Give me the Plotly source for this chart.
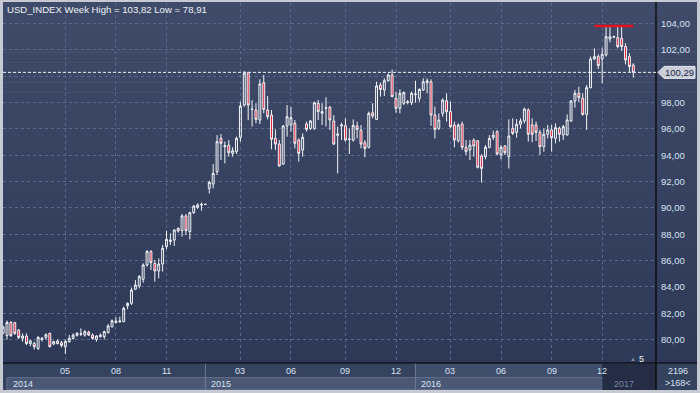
import plotly.graph_objects as go

# ---------------- data ----------------
opens = [80.50, 80.30, 81.30, 81.28, 80.72, 80.10, 80.27, 79.70, 79.70, 79.33,
         80.00, 80.16, 80.47, 79.66, 79.70, 79.76, 79.46, 79.84, 80.09, 80.32,
         80.40, 80.34, 80.57, 80.34, 80.01, 80.22, 80.22, 80.52, 80.97, 81.30,
         81.35, 81.36, 82.57, 82.75, 83.82, 84.07, 84.58, 85.66, 86.68, 85.79,
         85.21, 85.74, 87.06, 87.44, 87.56, 88.45, 88.27, 89.39, 88.20, 89.64,
         90.04, 90.22, 90.27, 91.48, 91.81, 92.75, 95.28, 94.65, 94.77, 94.14,
         94.27, 95.36, 97.81, 100.27, 97.48, 97.43, 96.67, 99.51, 97.43, 97.05,
         95.28, 94.85, 93.33, 96.22, 96.30, 96.42, 95.15, 94.39, 96.37, 96.04,
         96.04, 97.94, 97.18, 97.56, 97.64, 96.60, 95.51, 96.22, 96.24, 95.20,
         95.15, 96.22, 95.91, 94.95, 94.60, 97.23, 96.72, 99.33, 98.95, 99.66,
         100.09, 98.32, 97.56, 97.94, 98.00, 97.99, 98.60, 98.32, 98.95, 99.51,
         99.58, 97.05, 96.04, 97.18, 98.14, 97.31, 96.29, 95.10, 96.37, 94.60,
         94.40, 95.15, 95.10, 93.94, 93.89, 94.60, 95.36, 95.79, 94.01, 94.70,
         93.89, 96.04, 95.74, 96.35, 96.60, 97.43, 96.30, 96.30, 95.74, 94.65,
         95.59, 95.92, 95.28, 96.04, 95.54, 95.54, 96.60, 98.12, 98.70, 98.32,
         97.10, 99.13, 101.31, 101.49, 101.31, 101.61, 102.83, 102.97, 102.93, 102.88,
         102.25, 101.49, 100.85]
highs = [81.05, 81.45, 81.40, 81.35, 80.80, 80.47, 80.47, 80.00, 79.84, 80.27,
         80.20, 80.47, 80.52, 79.91, 80.00, 79.91, 80.00, 80.34, 80.47, 80.57,
         80.85, 80.72, 80.67, 80.47, 80.34, 80.47, 80.67, 81.18, 81.53, 81.69,
         81.74, 82.50, 82.83, 83.94, 84.52, 84.90, 85.79, 86.80, 86.80, 86.04,
         86.17, 87.18, 88.27, 88.07, 88.37, 88.52, 89.54, 89.54, 89.71, 90.22,
         90.35, 90.40, 90.30, 92.06, 93.33, 95.53, 95.61, 95.03, 95.15, 94.60,
         95.41, 98.07, 100.39, 100.34, 98.19, 97.94, 99.76, 100.09, 98.50, 97.43,
         95.96, 95.15, 96.29, 97.81, 97.66, 96.67, 95.28, 95.66, 96.55, 96.67,
         98.07, 98.19, 97.94, 98.40, 97.74, 97.05, 96.17, 96.47, 96.80, 96.04,
         96.72, 96.55, 96.29, 95.15, 97.31, 97.94, 99.58, 99.51, 99.84, 100.22,
         100.51, 98.83, 99.00, 98.83, 98.19, 98.83, 99.66, 99.08, 99.84, 99.84,
         99.76, 97.69, 97.18, 98.32, 98.70, 98.07, 96.55, 96.42, 96.55, 95.15,
         95.15, 95.28, 95.15, 94.09, 94.77, 95.53, 95.86, 95.91, 94.77, 94.77,
         96.72, 96.80, 96.75, 96.80, 97.61, 97.56, 96.80, 96.55, 95.92, 96.04,
         96.30, 96.30, 96.42, 96.17, 96.30, 97.10, 98.19, 98.95, 99.20, 98.70,
         99.33, 101.49, 102.12, 101.66, 102.17, 103.76, 103.76, 103.08, 103.82, 103.76,
         102.50, 101.74, 100.98]
lows = [80.40, 80.00, 80.20, 80.35, 80.04, 79.84, 79.58, 79.50, 79.25, 79.20,
        79.85, 80.00, 79.40, 79.58, 79.63, 79.40, 78.91, 79.76, 80.00, 80.22,
        80.27, 80.22, 80.27, 80.00, 79.84, 80.16, 80.01, 80.47, 80.92, 81.23,
        81.28, 81.31, 82.30, 82.63, 83.77, 83.89, 84.32, 85.54, 85.28, 84.40,
        84.65, 85.16, 86.85, 87.18, 87.11, 88.12, 87.82, 87.94, 87.61, 89.54,
        89.92, 89.79, 90.25, 91.10, 91.48, 92.50, 93.63, 93.38, 93.89, 93.89,
        94.09, 95.03, 97.69, 96.67, 96.17, 96.42, 96.37, 97.18, 96.72, 94.45,
        94.40, 93.13, 93.26, 95.41, 95.79, 94.52, 93.51, 93.89, 95.79, 95.91,
        95.91, 96.67, 96.29, 96.17, 95.91, 94.77, 92.62, 95.15, 95.03, 94.09,
        95.03, 95.28, 94.52, 93.84, 94.52, 96.80, 96.67, 98.45, 98.50, 99.58,
        98.40, 97.23, 97.18, 97.81, 97.86, 97.81, 97.99, 98.07, 98.90, 98.70,
        96.24, 95.28, 95.91, 96.93, 96.55, 96.04, 94.60, 94.95, 94.40, 94.01,
        93.63, 93.89, 93.00, 91.92, 93.69, 94.52, 95.15, 94.01, 93.69, 94.01,
        93.00, 95.53, 95.33, 96.04, 96.42, 95.03, 94.98, 95.08, 94.02, 94.27,
        95.28, 94.27, 94.90, 95.03, 95.16, 95.49, 96.55, 97.61, 98.02, 97.00,
        95.92, 99.08, 101.23, 100.55, 99.46, 101.49, 102.57, 102.88, 102.12, 101.92,
        100.90, 100.30, 99.89]
closes = [80.95, 81.30, 80.30, 80.47, 80.16, 80.27, 79.70, 79.90, 79.46, 80.16,
          80.10, 80.37, 79.46, 79.84, 79.89, 79.56, 79.86, 80.09, 80.34, 80.47,
          80.45, 80.60, 80.34, 80.09, 80.27, 80.34, 80.60, 81.03, 81.43, 81.40,
          81.41, 82.37, 82.75, 83.76, 84.14, 84.78, 85.66, 86.68, 85.84, 85.21,
          85.74, 86.93, 87.61, 87.56, 88.32, 88.25, 89.39, 88.27, 89.64, 90.14,
          90.22, 90.27, 90.27, 91.94, 92.62, 95.03, 94.90, 94.72, 94.19, 94.34,
          95.28, 97.74, 100.22, 97.81, 97.50, 96.72, 99.41, 97.48, 96.93, 95.21,
          94.85, 93.18, 96.22, 96.93, 96.85, 94.90, 94.14, 95.36, 95.96, 96.60,
          97.99, 97.31, 97.31, 97.60, 96.67, 94.85, 95.61, 96.29, 95.15, 95.23,
          96.27, 95.96, 94.85, 94.52, 97.18, 96.98, 99.26, 99.00, 99.66, 100.09,
          98.45, 97.56, 98.70, 98.77, 98.05, 98.70, 98.65, 99.00, 99.58, 99.64,
          97.05, 95.96, 96.67, 98.19, 97.31, 96.17, 95.15, 96.29, 94.60, 94.27,
          94.77, 94.70, 93.08, 93.00, 94.60, 95.28, 95.53, 94.09, 94.60, 94.19,
          95.46, 95.66, 96.35, 96.60, 97.51, 95.59, 95.59, 95.74, 94.65, 95.59,
          95.92, 95.33, 96.09, 95.59, 96.17, 96.68, 98.12, 98.70, 98.37, 97.10,
          99.13, 101.31, 101.49, 100.80, 101.66, 103.00, 103.00, 103.00, 102.25, 102.25,
          101.23, 100.73, 100.29]
bar_index = list(range(len(closes)))

month_tick_bars = [16, 29, 42, 61, 74, 88, 101, 115, 128, 141, 154]
month_tick_labels = ["05", "08", "11", "03", "06", "09", "12", "03", "06", "09", "12"]
year_labels = ["2014", "2015", "2016", "2017"]
year_start_bars = [1, 52, 106, 154]
y_tick_values = [80, 82, 84, 86, 88, 90, 92, 94, 96, 98, 100, 102, 104]
y_tick_labels = ["80,00", "82,00", "84,00", "86,00", "88,00", "90,00", "92,00",
                 "94,00", "96,00", "98,00", "", "102,00", "104,00"]
title_text = "USD_INDEX Week High = 103,82 Low = 78,91"
last_price_text = "100,29"
high_marker_bars = [152, 162]
visible_bars = 168
total_bars_text = "2196"
visible_bars_text = ">168<"
offset_bars_text = "5"

# ---------------- geometry / style ----------------
W, H = 700, 393
PL, PR, PT, PB = 3, 656, 3, 363
BAR_PX = 3.89
X0 = -0.03
X1 = X0 + (PR - PL) / BAR_PX
Y0, Y1 = 78.22, 105.56
FONT = "Liberation Sans"
LABEL_COLOR = "#d6e2f4"


def px_x(p):
    return (p - PL) / (PR - PL)


def px_y(p):
    return (PB - p) / (PB - PT)


def bar_px(b):
    return PL + (b - X0) * BAR_PX


shapes = []
# background gradient (plot + right axis panel)
N = 36
top_c, bot_c = (63, 75, 104), (45, 57, 86)
for i in range(N):
    t = i / (N - 1)
    c = tuple(round(top_c[k] + (bot_c[k] - top_c[k]) * t) for k in range(3))
    ya = 2 + i * (PB - 2) / N
    yb = 2 + (i + 1) * (PB - 2) / N + 0.6
    shapes.append(dict(type="rect", xref="paper", yref="paper", layer="below",
                       x0=px_x(3), x1=px_x(697), y0=px_y(ya), y1=px_y(min(yb, PB)),
                       fillcolor="rgb(%d,%d,%d)" % c, line=dict(width=0)))
# bottom time strip
shapes.append(dict(type="rect", xref="paper", yref="paper", layer="below",
                   x0=px_x(3), x1=px_x(697), y0=px_y(390), y1=px_y(PB),
                   fillcolor="#36435f", line=dict(width=0)))
# month row highlight for the current year section
shapes.append(dict(type="rect", xref="paper", yref="paper", layer="below",
                   x0=px_x(bar_px(year_start_bars[2])), x1=px_x(bar_px(year_start_bars[3])),
                   y0=px_y(377), y1=px_y(PB + 1), fillcolor="#414e6b", line=dict(width=0)))
# year bands
for i in range(3):
    xa = bar_px(year_start_bars[i])
    xb = bar_px(year_start_bars[i + 1])
    shapes.append(dict(type="rect", xref="paper", yref="paper", layer="below",
                       x0=px_x(xa), x1=px_x(xb), y0=px_y(389.5), y1=px_y(377.5),
                       fillcolor="#4b5875", line=dict(width=1, color="#5f6b87")))
for b in year_start_bars[1:3]:
    xa = bar_px(b)
    shapes.append(dict(type="line", xref="paper", yref="paper", layer="below",
                       x0=px_x(xa), x1=px_x(xa), y0=px_y(PB), y1=px_y(390),
                       line=dict(width=1, color="#6d7995")))
# dim overlay for the newest year
shapes.append(dict(type="rect", xref="paper", yref="paper", layer="above",
                   x0=px_x(bar_px(year_start_bars[3])), x1=px_x(PR), y0=px_y(390), y1=px_y(PB + 1),
                   fillcolor="rgba(30,38,60,0.72)", line=dict(width=0)))
# separators
shapes.append(dict(type="line", xref="paper", yref="paper", layer="above",
                   x0=px_x(PR), x1=px_x(PR), y0=px_y(2), y1=px_y(390),
                   line=dict(width=1.2, color="#000000")))
shapes.append(dict(type="line", xref="paper", yref="paper", layer="above",
                   x0=px_x(3), x1=px_x(697), y0=px_y(PB), y1=px_y(PB),
                   line=dict(width=1.2, color="#000000")))
# last price line
last_close = closes[-1]
shapes.append(dict(type="line", xref="paper", yref="y", layer="above",
                   x0=0, x1=1, y0=last_close, y1=last_close,
                   line=dict(width=1, color="#e8ecf4", dash="3px,2px")))
# price tag
hh = 6 / ((PB - PT) / (Y1 - Y0))
xa, xb, xc = px_x(PR + 2), px_x(PR + 8), px_x(PR + 39)
shapes.append(dict(type="path", xref="paper", yref="y", layer="above",
                   path="M %f,%f L %f,%f L %f,%f L %f,%f L %f,%f Z" % (
                       xa, last_close, xb, last_close + hh, xc, last_close + hh,
                       xc, last_close - hh, xb, last_close - hh),
                   fillcolor="#c9ced8", line=dict(width=1, color="#e4e8ee")))
# period high marker
max_high = max(highs)
shapes.append(dict(type="line", xref="x", yref="y", layer="above",
                   x0=high_marker_bars[0], x1=high_marker_bars[1], y0=max_high, y1=max_high,
                   line=dict(width=2.5, color="#e3141f")))

annotations = []
annotations.append(dict(text=title_text, xref="paper", yref="paper",
                        x=px_x(5), y=px_y(9), xanchor="left", yanchor="middle",
                        showarrow=False, font=dict(family=FONT, size=9.6, color="#eef2f8")))
for b, lab in zip(month_tick_bars, month_tick_labels):
    annotations.append(dict(text=lab, xref="x", yref="paper", x=b, y=px_y(371),
                            xanchor="center", yanchor="middle", showarrow=False,
                            font=dict(family=FONT, size=9, color=LABEL_COLOR)))
for i, lab in enumerate(year_labels):
    col = LABEL_COLOR if i < 3 else "#7a86a0"
    annotations.append(dict(text=lab, xref="x", yref="paper",
                            x=year_start_bars[i] if i < 3 else 159.5,
                            y=px_y(383.5), xanchor="left" if i < 3 else "center",
                            xshift=4 if i < 3 else 0, yanchor="middle", showarrow=False,
                            font=dict(family=FONT, size=9, color=col)))
annotations.append(dict(text=last_price_text, xref="paper", yref="y",
                        x=px_x(PR + 23), y=last_close, xanchor="center", yanchor="middle",
                        showarrow=False, font=dict(family=FONT, size=9.5, color="#1b2847")))
annotations.append(dict(text=total_bars_text, xref="paper", yref="paper",
                        x=px_x(678), y=px_y(370.5), xanchor="center", yanchor="middle",
                        showarrow=False, font=dict(family=FONT, size=9, color=LABEL_COLOR)))
annotations.append(dict(text=visible_bars_text, xref="paper", yref="paper",
                        x=px_x(677.5), y=px_y(383), xanchor="center", yanchor="middle",
                        showarrow=False, font=dict(family=FONT, size=9, color=LABEL_COLOR)))
annotations.append(dict(text="\u25b2", xref="paper", yref="paper",
                        x=px_x(633), y=px_y(358.5), xanchor="center", yanchor="middle",
                        showarrow=False, font=dict(family=FONT, size=6, color="#7d879c")))
annotations.append(dict(text=offset_bars_text, xref="paper", yref="paper",
                        x=px_x(641), y=px_y(358.5), xanchor="center", yanchor="middle",
                        showarrow=False, font=dict(family=FONT, size=9, color="#eef2f8")))

fig = go.Figure(go.Candlestick(
    x=bar_index, open=opens, high=highs, low=lows, close=closes,
    increasing=dict(line=dict(color="#f4f6fa", width=1), fillcolor="rgba(0,0,0,0)"),
    decreasing=dict(line=dict(color="#f4f6fa", width=1), fillcolor="#e0132b"),
    whiskerwidth=0, showlegend=False, hoverinfo="skip",
))

fig.update_layout(
    width=W, height=H, autosize=False,
    margin=dict(l=PL, r=W - PR, t=PT, b=H - PB, pad=0),
    paper_bgcolor="#c6cbd3", plot_bgcolor="rgba(0,0,0,0)",
    shapes=shapes, annotations=annotations, showlegend=False,
    font=dict(family=FONT, size=9, color=LABEL_COLOR),
    xaxis=dict(range=[X0, X1], rangeslider=dict(visible=False), tickvals=month_tick_bars,
               showticklabels=False, ticks="", showgrid=True, gridcolor="#58678a",
               griddash="3px,3px", gridwidth=1, zeroline=False, showline=False, fixedrange=True),
    yaxis=dict(range=[Y0, Y1], side="right", tickvals=y_tick_values, ticktext=y_tick_labels,
               ticks="", ticklabelstandoff=4, showgrid=True, gridcolor="#58678a",
               griddash="3px,3px", gridwidth=1, zeroline=False, showline=False,
               tickfont=dict(family=FONT, size=9.5, color=LABEL_COLOR), fixedrange=True),
)

fig.write_html("out.html", config={"displayModeBar": False},
               post_script="document.body.style.margin='0px';document.body.style.overflow='hidden';")
